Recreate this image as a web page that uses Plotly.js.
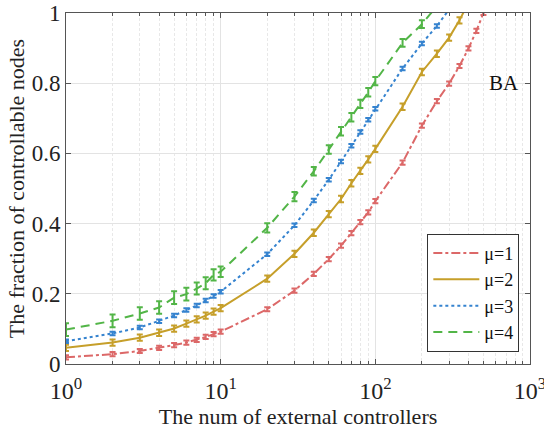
<!DOCTYPE html>
<html><head><meta charset="utf-8">
<script src="https://cdn.plot.ly/plotly-3.0.1.min.js"></script>
<style>html,body{margin:0;padding:0;background:#fff}</style>
</head><body><div id="plot" style="width:544px;height:430px"></div>
<script>
const xRed = [1,2,3,4,5,6,7,8,9,10,20,30,40,50,60,70,80,90,100,150,200,250,300,350,400,450,500];
const yRed = [0.019,0.028,0.037,0.046,0.054,0.061,0.069,0.077,0.085,0.092,0.156,0.209,0.257,0.299,0.337,0.373,0.404,0.432,0.464,0.574,0.679,0.749,0.799,0.849,0.899,0.949,1.0];
const eRed = [0.006,0.006,0.006,0.006,0.006,0.006,0.006,0.006,0.006,0.006,0.006,0.006,0.006,0.006,0.006,0.006,0.006,0.006,0.006,0.006,0.006,0.006,0.006,0.006,0.006,0.006,0.006];

const xYel = [1,2,3,4,5,6,7,8,9,10,20,30,40,50,60,70,80,90,100,150,200,250,300,350,400];
const yYel = [0.046,0.061,0.075,0.089,0.101,0.115,0.127,0.138,0.149,0.159,0.243,0.314,0.374,0.427,0.470,0.515,0.550,0.583,0.613,0.733,0.832,0.884,0.930,0.979,1.03];
const eYel = [0.009,0.009,0.009,0.009,0.009,0.009,0.009,0.009,0.009,0.009,0.009,0.009,0.009,0.009,0.009,0.009,0.009,0.009,0.009,0.009,0.009,0.009,0.009,0.009,0.009];

const xBlu = [1,2,3,4,5,6,7,8,9,10,20,30,40,50,60,70,80,90,100,150,200,250,300];
const yBlu = [0.065,0.087,0.104,0.122,0.138,0.154,0.167,0.181,0.194,0.206,0.313,0.395,0.466,0.525,0.577,0.622,0.661,0.696,0.727,0.842,0.913,0.963,1.01];
const eBlu = [0.005,0.005,0.005,0.005,0.005,0.005,0.005,0.005,0.005,0.005,0.005,0.005,0.005,0.005,0.005,0.005,0.005,0.005,0.005,0.005,0.005,0.005,0.005];

const xGrn = [1,2,3,4,5,6,7,8,9,10,20,30,40,50,60,70,80,90,100,150,200,250];
const yGrn = [0.098,0.123,0.144,0.161,0.189,0.199,0.215,0.230,0.254,0.263,0.388,0.477,0.549,0.611,0.663,0.703,0.741,0.774,0.806,0.915,0.968,1.02];
const eGrn = [0.018,0.018,0.018,0.018,0.018,0.018,0.017,0.017,0.016,0.015,0.013,0.013,0.012,0.012,0.012,0.012,0.012,0.012,0.012,0.011,0.011,0.011];

const names = ['μ=1','μ=2','μ=3','μ=4'];
const tickVals = [1,10,100,1000];
const tickText = ['10<sup>0</sup>','10<sup>1</sup>','10<sup>2</sup>','10<sup>3</sup>'];
const minorVals = [2,3,4,5,6,7,8,9,20,30,40,50,60,70,80,90,200,300,400,500,600,700,800,900];

function tr(x,y,e,name,color,dash){
  return {x:x,y:y,name:name,type:'scatter',mode:'lines',
    line:{color:color,width:2,dash:dash},
    error_y:{type:'data',array:e,visible:true,color:color,thickness:2,width:3}};
}
const data = [
  tr(xRed,yRed,eRed,names[0],'#dc6868','dashdot'),
  tr(xYel,yYel,eYel,names[1],'#c69f2a','solid'),
  tr(xBlu,yBlu,eBlu,names[2],'#3583cf','dot'),
  tr(xGrn,yGrn,eGrn,names[3],'#52b547','9px,6px')
];
const F = 'Liberation Serif';
const layout = {
  width:544,height:430,
  margin:{l:65.5,r:13.5,t:12.7,b:65.7},
  paper_bgcolor:'#fff',plot_bgcolor:'#fff',
  font:{family:F,size:20,color:'#222'},
  showlegend:true,
  legend:{x:0.977,y:0.035,xanchor:'right',yanchor:'bottom',bgcolor:'#fff',bordercolor:'#333',borderwidth:1,
    font:{family:F,size:18,color:'#111'},tracegroupgap:0,itemwidth:46},
  xaxis:{type:'log',range:[0,3],tickvals:tickVals,ticktext:tickText,ticklabeloverflow:'allow',ticklabelstandoff:5,
    showline:true,linecolor:'#555',linewidth:1,mirror:'ticks',ticks:'inside',ticklen:5,tickcolor:'#555',
    showgrid:true,gridcolor:'#e3e3e3',gridwidth:1,zeroline:false,
    tickfont:{family:F,size:24,color:'#222'},
    minor:{tickvals:minorVals,ticks:'inside',ticklen:3,tickcolor:'#555',showgrid:true,gridcolor:'#e8e8e8',griddash:'3px,2px',gridwidth:1},
    title:{text:'The num of external controllers',font:{family:F,size:22,color:'#222'},standoff:2}},
  yaxis:{range:[0,1],tickvals:[0,0.2,0.4,0.6,0.8,1],ticktext:['0','0.2','0.4','0.6','0.8','1'],
    showline:true,linecolor:'#555',linewidth:1,mirror:'ticks',ticks:'inside',ticklen:5,tickcolor:'#555',
    showgrid:true,gridcolor:'#e3e3e3',gridwidth:1,zeroline:false,
    tickfont:{family:F,size:23,color:'#222'},
    title:{text:'The fraction of controllable nodes',font:{family:F,size:22,color:'#222'},standoff:0}},
  annotations:[{text:'BA',xref:'paper',yref:'y',x:0.98,y:0.8,xanchor:'right',yanchor:'middle',showarrow:false,
    font:{family:F,size:21,color:'#111'}}]
};
Plotly.newPlot('plot',data,layout,{displayModeBar:false});
</script></body></html>
